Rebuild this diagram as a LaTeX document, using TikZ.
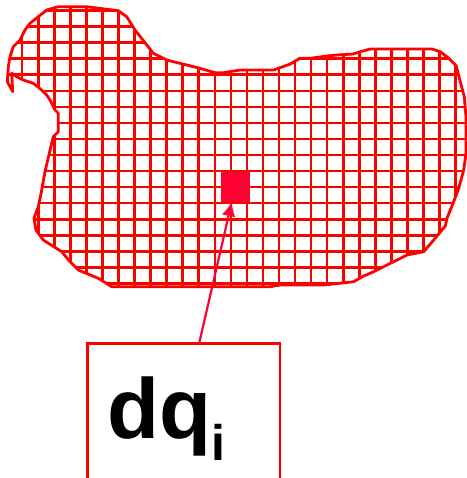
\documentclass[tikz,border=0pt]{standalone}
\usepackage{fontspec}
\setmainfont{Liberation Sans}
\usetikzlibrary{arrows.meta,calc}
\definecolor{meshRed}{RGB}{255,0,0}
\definecolor{cellRed}{RGB}{255,0,51}
\newcommand{\regionOutline}{(46.7,10) -- (58.3,6.7) -- (86.7,6.7) -- (118.3,10.7) -- (126.7,16.7)
  -- (135,30) -- (153.3,53.3) -- (166.7,60) -- (200,68.3) -- (215,72.7) -- (223.3,72.7)
  -- (240.3,70) -- (273.7,70) -- (290.3,64) -- (299.7,58.3) -- (310.3,58.3) -- (327,56)
  -- (337,55) -- (353,54) -- (360.3,51.7) -- (370.3,49) -- (432,49) -- (440.3,51.7)
  -- (448.7,58.3) -- (456.3,66) -- (460.3,81.7) -- (464.3,96.7) -- (466,116.7) -- (466,153.3)
  -- (463.7,170) -- (458.7,188.3) -- (453.7,201.7) -- (447,218.3) -- (445.3,226) -- (433.7,240)
  -- (423.7,251.7) -- (407,255) -- (393.7,261.7) -- (373.7,271.7) -- (363.7,276) -- (353.7,281.7)
  -- (323.7,285) -- (280.3,285) -- (270.3,286.7) -- (111.7,286.7) -- (98.3,278.3) -- (78.3,270)
  -- (70,261.7) -- (61.7,251.7) -- (43.3,240) -- (36,230) -- (34,218.3) -- (38.3,206.7)
  -- (41.7,190) -- (45,171.7) -- (49.3,153.3) -- (53.3,136.7) -- (58.3,131.7) -- (58.3,113.3)
  -- (55,110) -- (50,100) -- (46.7,95) -- (41.7,90) -- (33.3,83.3) -- (23.3,80) -- (16.7,76.7)
  -- (11.7,73.3) -- (12.7,91.7) -- (7.3,81.7) -- (8.3,66.7) -- (10,56.7) -- (13.3,46.7)
  -- (20,40) -- (25,30) -- (30,23.3) -- cycle}

\begin{document}
\begin{tikzpicture}[x=0.5pt, y=-0.5pt]
    \tikzset{
        meshLine/.style={draw=meshRed, line width=1.3pt},
        outlineStroke/.style={draw=meshRed, line width=1.4pt, line join=round},
        cellFill/.style={fill=cellRed, draw=none, inner sep=0pt,
            minimum width=14.65pt, minimum height=15pt},
        pointer/.style={draw=cellRed, line width=1.1pt, -{Latex[length=7pt, width=7pt]}},
        labelbox/.style={draw=meshRed, line width=1.2pt, inner sep=0pt,
            minimum width=96.3pt, minimum height=75pt},
        dqText/.style={anchor=base west, inner sep=0pt,
            font=\fontsize{42.6}{42.6}\selectfont\bfseries}
    }
    \useasboundingbox (0,0) rectangle (467,478);

    % mesh clipped to the region
    \begin{scope}
        \clip \regionOutline;
        \foreach \gx in {0,...,27}
            \draw[meshLine] ({22.2+16.05*\gx},0) -- ({22.2+16.05*\gx},300);
        \foreach \gy in {-1,...,16}
            \draw[meshLine] (0,{26.6+16.05*\gy}) -- (470,{26.6+16.05*\gy});
    \end{scope}
    \draw[outlineStroke] \regionOutline;

    \node[cellFill] (cell) at (235.3,186.7) {};

    \node[labelbox] (box) at (183.65,418.3) {};
    \node[dqText] (dq) at (107,438.3) {dq\raisebox{-10.85pt}{\fontsize{25}{25}\selectfont i}};

    \draw[pointer] ($(box.north west)!0.581!(box.north east)$) -- (cell);
\end{tikzpicture}
\end{document}
